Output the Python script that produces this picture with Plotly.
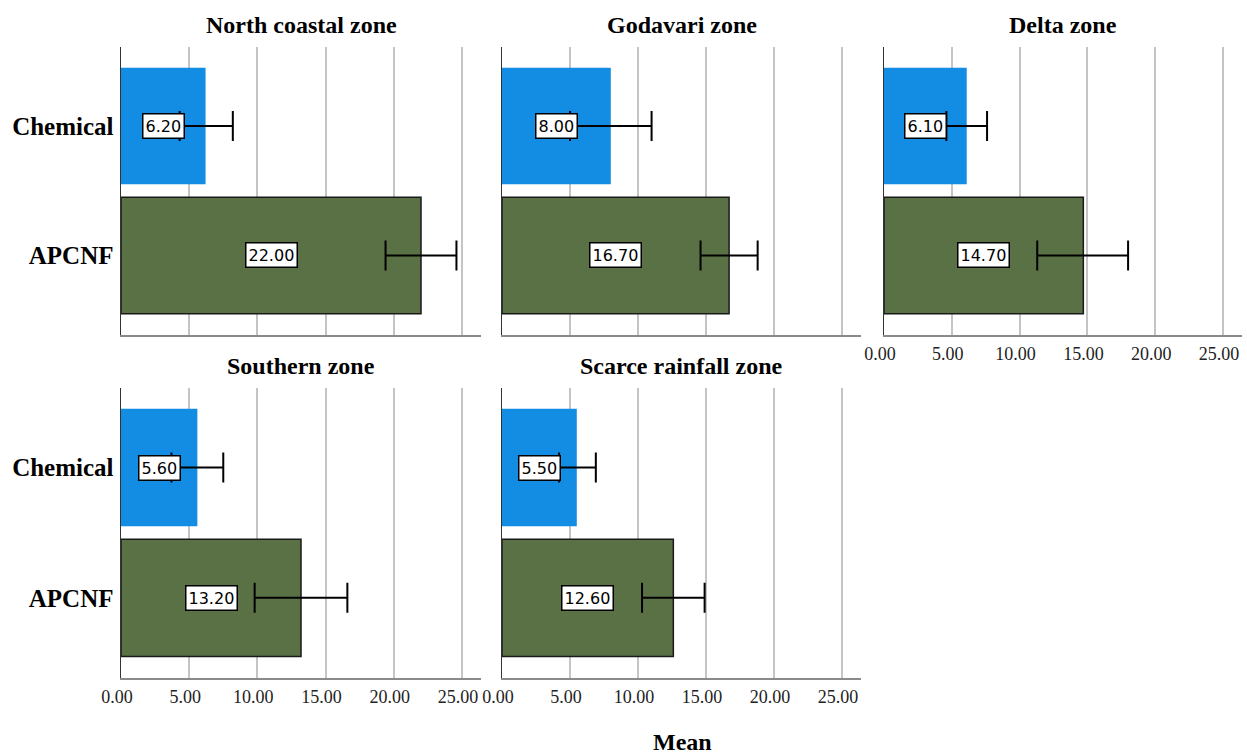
import plotly.graph_objects as go

zones = ["North coastal zone", "Godavari zone", "Delta zone", "Southern zone", "Scarce rainfall zone"]
categories = ["Chemical", "APCNF"]
chemical_mean = [6.2, 8.0, 6.1, 5.6, 5.5]
apcnf_mean = [22.0, 16.7, 14.7, 13.2, 12.6]
chemical_lower = [4.3, 5.0, 4.6, 3.7, 4.2]
chemical_upper = [8.2, 11.0, 7.6, 7.5, 6.9]
apcnf_lower = [19.4, 14.6, 11.3, 9.8, 10.3]
apcnf_upper = [24.6, 18.8, 18.0, 16.6, 14.9]
x_ticks = [0, 5, 10, 15, 20, 25]
x_tick_labels = ["0.00", "5.00", "10.00", "15.00", "20.00", "25.00"]

W, H = 1247, 755
BLUE = "#138ce4"
GREEN = "#5a7146"
SERIF = "Liberation Serif"

# panel pixel boxes (left, right, top, bottom)
cols = [(121, 481), (502, 861), (884, 1242)]
rows = [(47, 335), (388, 678)]
panel_pos = [(0, 0), (0, 1), (0, 2), (1, 0), (1, 1)]
show_xlabels = [False, False, True, True, True]


def px(v):
    return v / W


def py(v):
    return 1 - v / H


fig = go.Figure()
layout = dict(
    width=W, height=H,
    margin=dict(l=0, r=0, t=0, b=0, autoexpand=False),
    paper_bgcolor="white", plot_bgcolor="white",
    showlegend=False,
)
annotations = []

for i, zone in enumerate(zones):
    r, c = panel_pos[i]
    (x0, x1), (y0, y1) = cols[c], rows[r]
    sfx = "" if i == 0 else str(i + 1)
    means = [chemical_mean[i], apcnf_mean[i]]
    lows = [chemical_lower[i], apcnf_lower[i]]
    ups = [chemical_upper[i], apcnf_upper[i]]
    fig.add_trace(go.Bar(
        x=means, y=categories, orientation="h",
        xaxis="x" + sfx, yaxis="y" + sfx,
        width=0.9,
        marker=dict(color=[BLUE, GREEN], line=dict(color=[BLUE, "#1a1a1a"], width=[0, 1.5])),
        error_x=dict(type="data", symmetric=False,
                     array=[u - m for u, m in zip(ups, means)],
                     arrayminus=[m - l for m, l in zip(means, lows)],
                     color="black", thickness=2, width=15),
        hoverinfo="skip",
    ))
    layout["xaxis" + sfx] = dict(
        domain=[px(x0), px(x1)], anchor="y" + sfx, automargin=False,
        range=[0, 26.4], tickvals=x_ticks, ticktext=x_tick_labels,
        showticklabels=show_xlabels[i],
        tickfont=dict(family=SERIF, size=18, color="#222"),
        ticks="", ticklabelstandoff=1, ticklabelshift=-4,
        showgrid=True, gridcolor="#c4c4c4", gridwidth=2,
        zeroline=False, showline=True, linecolor="#8a8a8a", linewidth=2,
        fixedrange=True,
    )
    layout["yaxis" + sfx] = dict(
        domain=[py(y1), py(y0)], anchor="x" + sfx, automargin=False,
        type="category", categoryorder="array", categoryarray=categories,
        range=[1.615, -0.61],
        showticklabels=(c == 0),
        tickfont=dict(family=SERIF, size=25, color="black", weight="bold"),
        ticks="", ticklabelstandoff=1,
        showgrid=False, zeroline=False,
        showline=True, linecolor="#333", linewidth=1.5,
        fixedrange=True,
    )
    # panel title
    annotations.append(dict(
        text="<b>" + zone + "</b>", xref="paper", yref="paper",
        x=px((x0 + x1) / 2), y=py(y0 - 22),
        xanchor="center", yanchor="middle", showarrow=False,
        font=dict(family=SERIF, size=24, color="black"),
    ))
    # value labels
    for cat, m in zip(categories, means):
        annotations.append(dict(
            text="%.2f" % m, xref="x" + sfx, yref="y" + sfx,
            x=m / 2, y=cat, showarrow=False,
            font=dict(family="DejaVu Sans", size=16, color="black"),
            bgcolor="white", bordercolor="black", borderwidth=1.5, borderpad=2,
        ))

annotations.append(dict(
    text="<b>Mean</b>", xref="paper", yref="paper",
    x=px(682), y=py(742), xanchor="center", yanchor="middle",
    showarrow=False, font=dict(family=SERIF, size=24, color="black"),
))
layout["annotations"] = annotations
fig.update_layout(**layout)
fig.write_html("out.html",
               config={"displayModeBar": False, "staticPlot": True},
               post_script="document.body.style.margin='0';document.body.style.overflow='hidden';")
